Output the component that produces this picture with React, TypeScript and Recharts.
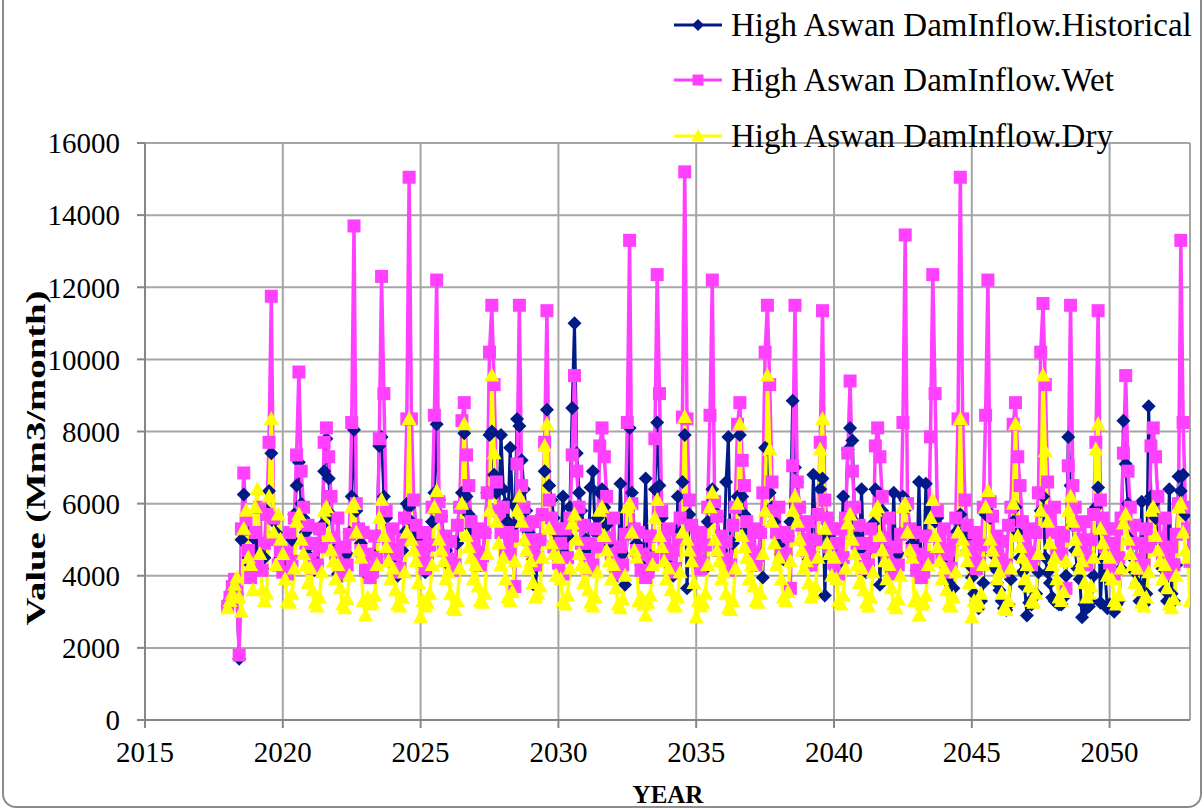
import React from "react";
import { LineChart, Line, XAxis, YAxis, CartesianGrid } from "recharts";

// Monthly inflow to the High Aswan Dam (Mm3/month), one row per year, Jan..Dec.
const YEARS = [
  2018, 2019, 2020, 2021, 2022, 2023, 2024, 2025, 2026, 2027, 2028, 2029,
  2030, 2031, 2032, 2033, 2034, 2035, 2036, 2037, 2038, 2039, 2040, 2041,
  2042, 2043, 2044, 2045, 2046, 2047, 2048, 2049, 2050, 2051, 2052,
];

const HISTORICAL = [
  [3150, 3350, 3600, 3850, 3500, 1700, 5000, 6250, 5300, 4500, 4300, 4150],
  [5000, 4700, 4300, 4200, 4500, 5800, 6350, 7400, 5500, 5200, 4900, 4500],
  [4400, 4200, 4100, 4450, 5000, 5700, 6500, 7150, 6000, 5600, 5200, 4800],
  [4500, 4250, 4150, 4350, 4850, 5400, 6900, 7800, 6700, 5700, 5000, 4600],
  [4050, 4250, 4000, 4200, 4600, 5200, 6200, 8050, 5800, 5300, 4900, 4500],
  [4150, 4000, 3950, 4100, 4550, 5100, 7600, 7850, 6200, 5600, 5000, 4600],
  [4300, 4100, 4000, 4200, 4700, 5200, 6000, 5900, 5500, 5300, 5000, 4700],
  [4500, 4300, 4100, 4350, 4850, 5500, 6300, 8200, 6100, 5650, 5100, 4700],
  [4450, 4250, 4150, 4300, 4900, 5900, 6300, 7950, 6200, 5700, 5300, 4950],
  [4650, 4400, 4300, 4550, 5200, 6300, 7900, 8000, 6800, 6300, 5800, 7900],
  [6400, 6000, 5500, 7550, 6000, 5400, 8350, 8150, 7200, 6400, 5800, 5200],
  [4700, 4450, 3700, 4500, 5000, 5700, 6900, 8600, 6500, 6100, 5600, 5200],
  [5000, 4800, 6200, 4600, 5100, 5900, 8650, 11000, 7400, 6300, 5800, 5400],
  [5000, 4700, 6450, 6900, 5200, 5600, 6300, 6400, 5900, 5400, 4900, 4600],
  [4400, 4200, 4000, 6550, 4600, 3750, 5200, 8100, 6300, 5300, 4900, 4500],
  [4300, 4100, 6700, 4100, 4550, 5100, 6400, 8250, 6500, 5600, 5000, 4600],
  [4300, 4100, 4000, 4200, 6200, 5200, 6600, 7900, 3650, 5700, 5400, 4800],
  [4500, 4300, 4200, 4350, 4200, 5500, 6000, 6400, 5800, 5650, 5100, 4700],
  [4450, 6600, 7850, 4300, 4900, 5900, 6200, 7900, 6200, 5700, 5300, 4950],
  [4650, 4400, 4300, 4550, 5200, 3950, 7550, 7500, 6300, 5900, 5500, 5100],
  [4850, 4600, 4450, 4600, 5100, 5500, 8850, 7000, 6600, 5900, 5400, 5000],
  [4700, 4450, 4300, 6800, 5000, 5700, 6400, 6700, 3450, 5600, 5100, 4750],
  [4350, 4150, 4050, 4400, 6200, 5600, 7500, 8100, 7750, 5500, 5100, 4700],
  [6400, 4200, 4100, 4300, 4800, 5450, 6400, 6300, 3750, 5800, 5050, 4600],
  [4400, 4250, 6300, 4200, 4600, 5150, 6200, 6100, 5900, 5300, 4900, 4500],
  [4150, 6600, 3950, 4100, 6550, 5100, 5800, 5900, 5500, 5600, 5000, 4600],
  [4300, 4100, 3800, 4200, 3650, 5200, 5500, 5700, 5200, 5000, 4700, 4300],
  [3950, 3500, 3300, 3100, 3300, 3800, 5700, 5800, 5600, 4600, 4200, 3800],
  [3600, 3300, 3100, 3050, 3200, 3900, 5500, 5900, 5200, 4500, 4100, 3700],
  [2900, 3250, 3200, 3400, 3500, 4100, 5800, 6200, 4500, 4100, 3800, 3400],
  [3300, 3250, 3200, 3200, 3400, 4000, 7850, 6500, 5400, 4700, 4200, 3900],
  [2850, 3200, 3100, 3150, 3300, 4000, 5900, 6450, 3250, 4500, 4100, 3100],
  [3200, 3100, 3000, 3200, 3300, 4200, 8300, 7100, 6000, 5000, 4500, 4100],
  [3800, 3300, 6050, 3200, 3500, 8700, 6200, 6000, 5600, 5000, 4600, 4200],
  [3600, 3300, 6400, 3500, 3300, 4300, 6750, 6350, 6800, 5700, 5250, 5200],
];

const WET = [
  [3150, 3400, 3700, 3900, 3550, 1800, 5300, 6850, 5550, 4700, 3950, 4300],
  [5200, 4400, 5900, 4150, 4900, 5700, 7700, 11750, 5600, 5000, 4300, 4700],
  [4100, 4600, 4050, 5200, 4400, 5600, 7350, 9650, 6900, 5900, 4900, 5400],
  [4450, 4200, 4900, 4300, 5300, 4800, 7700, 8100, 7300, 6200, 5050, 4600],
  [5600, 4250, 4050, 4800, 4300, 5150, 8250, 13700, 6000, 5300, 4700, 5200],
  [4150, 4600, 3950, 4100, 5100, 4500, 7800, 12300, 9050, 5800, 5000, 4600],
  [5300, 4100, 4700, 4200, 5000, 5600, 8350, 15050, 8350, 6100, 5400, 4800],
  [4500, 5200, 4200, 4350, 4850, 5900, 8450, 12200, 6050, 5650, 4700, 5100],
  [4450, 4950, 4150, 4300, 5400, 5900, 8300, 8800, 7350, 6500, 5500, 4950],
  [4650, 5300, 4300, 4550, 5200, 6300, 10200, 11500, 9300, 6600, 5800, 5200],
  [5900, 4600, 5200, 4600, 5100, 3700, 7100, 11500, 6500, 5900, 5400, 5000],
  [4700, 5500, 4300, 4500, 5000, 5700, 7700, 11350, 6100, 5600, 4800, 5300],
  [4350, 4900, 4050, 5300, 4500, 5600, 7350, 9550, 6900, 5900, 4900, 5400],
  [4450, 4200, 4900, 4300, 5300, 4800, 7600, 8100, 7300, 6200, 5050, 4600],
  [5600, 4250, 4050, 4800, 4300, 5150, 8250, 13300, 6000, 5300, 4700, 5200],
  [4150, 4600, 3950, 4100, 5100, 4500, 7800, 12350, 9050, 5800, 5000, 4600],
  [5300, 4100, 4700, 4200, 5000, 5600, 8400, 15200, 8350, 6100, 5400, 4800],
  [4500, 5200, 4200, 4350, 4850, 5900, 8450, 12200, 6050, 5650, 4700, 5100],
  [4450, 4950, 4150, 4300, 5400, 5900, 8200, 8800, 7200, 6500, 5500, 4950],
  [4650, 5300, 4300, 4550, 5200, 6300, 10200, 11500, 9300, 6600, 5800, 5200],
  [5900, 4600, 5200, 4600, 5100, 3650, 7050, 11500, 6600, 5900, 5400, 5000],
  [4700, 5500, 4300, 4500, 5000, 5700, 7700, 11350, 6100, 5600, 4800, 5300],
  [4350, 4900, 4050, 5300, 4500, 5600, 7400, 9400, 6900, 5900, 4900, 5400],
  [4450, 4200, 4900, 4300, 5300, 4800, 7600, 8100, 7300, 6200, 5050, 4600],
  [5600, 4250, 4050, 4800, 4300, 5150, 8250, 13450, 6000, 5300, 4700, 5200],
  [4150, 4600, 3950, 4100, 5100, 4500, 7850, 12350, 9050, 5800, 5000, 4600],
  [5300, 4100, 4700, 4200, 5000, 5600, 8350, 15050, 8350, 6100, 5400, 4800],
  [4500, 5200, 4200, 4350, 4850, 5900, 8450, 12200, 6050, 5650, 4700, 5100],
  [4450, 4950, 4150, 4300, 5400, 5900, 8200, 8800, 7300, 6500, 5500, 4950],
  [4650, 5300, 4300, 4550, 5200, 6300, 10200, 11550, 9300, 6600, 5800, 5200],
  [5900, 4600, 5200, 4600, 5100, 3650, 7050, 11500, 6500, 5900, 5400, 5000],
  [4700, 5500, 4300, 4500, 5000, 5700, 7700, 11350, 6100, 5600, 4800, 5300],
  [4350, 4900, 4050, 5300, 4500, 5600, 7400, 9550, 6900, 5900, 4900, 5400],
  [4450, 4200, 4900, 4300, 5300, 4800, 7600, 8100, 7300, 6200, 5050, 4600],
  [5600, 4250, 4050, 4800, 4300, 5150, 6000, 13300, 8250, 5900, 5300, 4400],
];

const DRY = [
  [3100, 3300, 3500, 3750, 3950, 3400, 3000, 5300, 5800, 4500, 4300, 3600],
  [5900, 6400, 4600, 3600, 3300, 3500, 6200, 8350, 5200, 4300, 5700, 5000],
  [4600, 3900, 3300, 3250, 3500, 4200, 5500, 5700, 5000, 4600, 4300, 3800],
  [4200, 3600, 3250, 3150, 3400, 4100, 5800, 5900, 5100, 4700, 4400, 3900],
  [4300, 3650, 3200, 3100, 3350, 4000, 5900, 6000, 5200, 4700, 4500, 3300],
  [2900, 3400, 3200, 3250, 3450, 4300, 5600, 6100, 5100, 4800, 4400, 3900],
  [4200, 3600, 3200, 3150, 3400, 4100, 5200, 8350, 5000, 4700, 4400, 3800],
  [2850, 3300, 3150, 3250, 3500, 4300, 5900, 6350, 5000, 4700, 4400, 3900],
  [4100, 3500, 3100, 3050, 3300, 4200, 6000, 8200, 5100, 4800, 4500, 3900],
  [4300, 3700, 3300, 3250, 3500, 4600, 5800, 9550, 7400, 5500, 4900, 4300],
  [4500, 3900, 3400, 3300, 3550, 4400, 5800, 6200, 5500, 5000, 4700, 4200],
  [4400, 3800, 3400, 3500, 3700, 4500, 7600, 8200, 5300, 4900, 4600, 4000],
  [4500, 3900, 3300, 3200, 3450, 4200, 5450, 5700, 5000, 4600, 4300, 3800],
  [4200, 3600, 3250, 3150, 3400, 4100, 5800, 5900, 5100, 4700, 4400, 3900],
  [4300, 3650, 3200, 3100, 3350, 4000, 5900, 6000, 5200, 4700, 4500, 3300],
  [3400, 3200, 2900, 3250, 3450, 4300, 5600, 6100, 5100, 4800, 4400, 3900],
  [4200, 3600, 3200, 3150, 3400, 4100, 5200, 8400, 5000, 4700, 4400, 3800],
  [2850, 3300, 3150, 3250, 3500, 4300, 5900, 6300, 5000, 4700, 4400, 3900],
  [4100, 3500, 3100, 3050, 3300, 4200, 6000, 8200, 5100, 4800, 4500, 3900],
  [4300, 3700, 3300, 3250, 3500, 4600, 5800, 9550, 7500, 5500, 4900, 4300],
  [4500, 3900, 3400, 3300, 3550, 4400, 5800, 6200, 5500, 5000, 4700, 4200],
  [4400, 3800, 3400, 3500, 3700, 4500, 7500, 8350, 5300, 4900, 4600, 4000],
  [4500, 3900, 3300, 3200, 3450, 4200, 5450, 5700, 5000, 4600, 4300, 3800],
  [4200, 3600, 3250, 3150, 3400, 4100, 5800, 5900, 5100, 4700, 4400, 3900],
  [4300, 3650, 3200, 3100, 3350, 4000, 5900, 6000, 5200, 4700, 4500, 3300],
  [3400, 2900, 3200, 3250, 3450, 4300, 5600, 6100, 5100, 4800, 4400, 3900],
  [4200, 3600, 3200, 3150, 3400, 4100, 5200, 8350, 5000, 4700, 4400, 3800],
  [2850, 3300, 3150, 3250, 3500, 4300, 5900, 6350, 5000, 4700, 4400, 3900],
  [4100, 3500, 3100, 3050, 3300, 4200, 6000, 8200, 5100, 4800, 4500, 3900],
  [4300, 3700, 3300, 3250, 3500, 4600, 5800, 9550, 7450, 5500, 4900, 4300],
  [4500, 3900, 3400, 3300, 3550, 4400, 5800, 6200, 5500, 5000, 4700, 4200],
  [4400, 3800, 3400, 3500, 3700, 4500, 7500, 8200, 5300, 4900, 4600, 4000],
  [4500, 3900, 3300, 3200, 3450, 4200, 5450, 5700, 5000, 4600, 4300, 3800],
  [4200, 3600, 3250, 3150, 3400, 4100, 5800, 5900, 5100, 4700, 4400, 3900],
  [4300, 3650, 3200, 3100, 3350, 4000, 5900, 6000, 5200, 4700, 4500, 3300],
];

const X_TICKS = [2015, 2020, 2025, 2030, 2035, 2040, 2045, 2050];
const Y_TICKS = [0, 2000, 4000, 6000, 8000, 10000, 12000, 14000, 16000];

const SERIES_NAMES = [
  "High Aswan DamInflow.Historical",
  "High Aswan DamInflow.Wet",
  "High Aswan DamInflow.Dry",
];

const NAVY = "#001A87";
const PINK = "#FF40FF";
const YELLOW = "#FFFF00";
const GRID = "#A6A6A6";
const FONT = "'Liberation Serif', 'Times New Roman', serif";

const rows = YEARS.flatMap((year, i) =>
  HISTORICAL[i].map((h, m) => ({
    t: year + m / 12,
    hist: h,
    wet: WET[i][m],
    dry: DRY[i][m],
  }))
);

type DotProps = { cx?: number; cy?: number; index?: number };

const diamond = (p: DotProps) => {
  const { cx = 0, cy = 0, index } = p;
  return (
    <polygon
      key={`d${index}`}
      points={`${cx},${cy - 7} ${cx + 7},${cy} ${cx},${cy + 7} ${cx - 7},${cy}`}
      fill={NAVY}
    />
  );
};

const square = (p: DotProps) => {
  const { cx = 0, cy = 0, index } = p;
  return <rect key={`s${index}`} x={cx - 6.5} y={cy - 6.5} width={13} height={13} fill={PINK} />;
};

const triangle = (p: DotProps) => {
  const { cx = 0, cy = 0, index } = p;
  return (
    <polygon
      key={`t${index}`}
      points={`${cx},${cy - 8} ${cx + 7.5},${cy + 6} ${cx - 7.5},${cy + 6}`}
      fill={YELLOW}
    />
  );
};

const LegendIcon = ({ kind, color }: { kind: number; color: string }) => (
  <svg width={50} height={20} style={{ display: "block" }}>
    <line x1={1} y1={10} x2={49} y2={10} stroke={color} strokeWidth={3} />
    {kind === 0 && <polygon points="25,4 31,10 25,16 19,10" fill={color} />}
    {kind === 1 && <rect x={19.5} y={4.5} width={11} height={11} fill={color} />}
    {kind === 2 && <polygon points="25,3 31.5,15 18.5,15" fill={color} />}
  </svg>
);

const LEGEND_COLORS = [NAVY, PINK, YELLOW];
const LEGEND_Y = [25, 80, 136];

export default function App() {
  return (
    <div
      style={{
        position: "absolute",
        left: 0,
        top: 0,
        width: 1204,
        height: 810,
        overflow: "hidden",
        background: "#fff",
        fontFamily: FONT,
      }}
    >
      <div
        style={{
          position: "absolute",
          left: 2,
          top: -30,
          width: 1196,
          height: 834,
          border: "2px solid #8C8C8C",
          borderRadius: 14,
        }}
      />
      <LineChart
        width={1204}
        height={810}
        data={rows}
        margin={{ top: 143, right: 14, bottom: 30, left: 0 }}
        style={{ position: "absolute", left: 0, top: 0 }}
      >
        <CartesianGrid stroke={GRID} strokeWidth={2} />
        <XAxis
          dataKey="t"
          type="number"
          domain={[2015, 2052 + 11 / 12]}
          ticks={X_TICKS}
          allowDataOverflow
          height={60}
          tickSize={8}
          tickMargin={13}
          stroke="#868686"
          strokeWidth={2}
          tick={{ fill: "#000", fontSize: 29, fontFamily: FONT }}
        />
        <YAxis
          type="number"
          domain={[0, 16000]}
          ticks={Y_TICKS}
          width={145}
          tickSize={8}
          tickMargin={17}
          stroke="#868686"
          strokeWidth={2}
          tick={{ fill: "#000", fontSize: 29, fontFamily: FONT }}
        />
        <Line
          dataKey="hist"
          type="linear"
          stroke={NAVY}
          strokeWidth={3}
          dot={diamond}
          activeDot={false}
          isAnimationActive={false}
        />
        <Line
          dataKey="wet"
          type="linear"
          stroke={PINK}
          strokeWidth={3.5}
          dot={square}
          activeDot={false}
          isAnimationActive={false}
        />
        <Line
          dataKey="dry"
          type="linear"
          stroke={YELLOW}
          strokeWidth={3.5}
          dot={triangle}
          activeDot={false}
          isAnimationActive={false}
        />
      </LineChart>

      <svg
        width={1204}
        height={810}
        style={{ position: "absolute", left: 0, top: 0, pointerEvents: "none" }}
      >
        <text
          transform="translate(45, 458) rotate(-90)"
          textAnchor="middle"
          fontFamily={FONT}
          fontWeight="bold"
          fontSize={28}
          textLength={335}
          lengthAdjust="spacingAndGlyphs"
        >
          Value (Mm3/month)
        </text>
        <text
          x={668}
          y={803}
          textAnchor="middle"
          fontFamily={FONT}
          fontWeight="bold"
          fontSize={25}
        >
          YEAR
        </text>
      </svg>

      {SERIES_NAMES.map((name, i) => (
        <div
          key={name}
          style={{
            position: "absolute",
            left: 673,
            top: LEGEND_Y[i] - 20,
            height: 40,
            display: "flex",
            alignItems: "center",
            whiteSpace: "nowrap",
          }}
        >
          <LegendIcon kind={i} color={LEGEND_COLORS[i]} />
          <span style={{ marginLeft: 8, fontSize: 33, fontFamily: FONT, color: "#000" }}>
            {name}
          </span>
        </div>
      ))}
    </div>
  );
}
